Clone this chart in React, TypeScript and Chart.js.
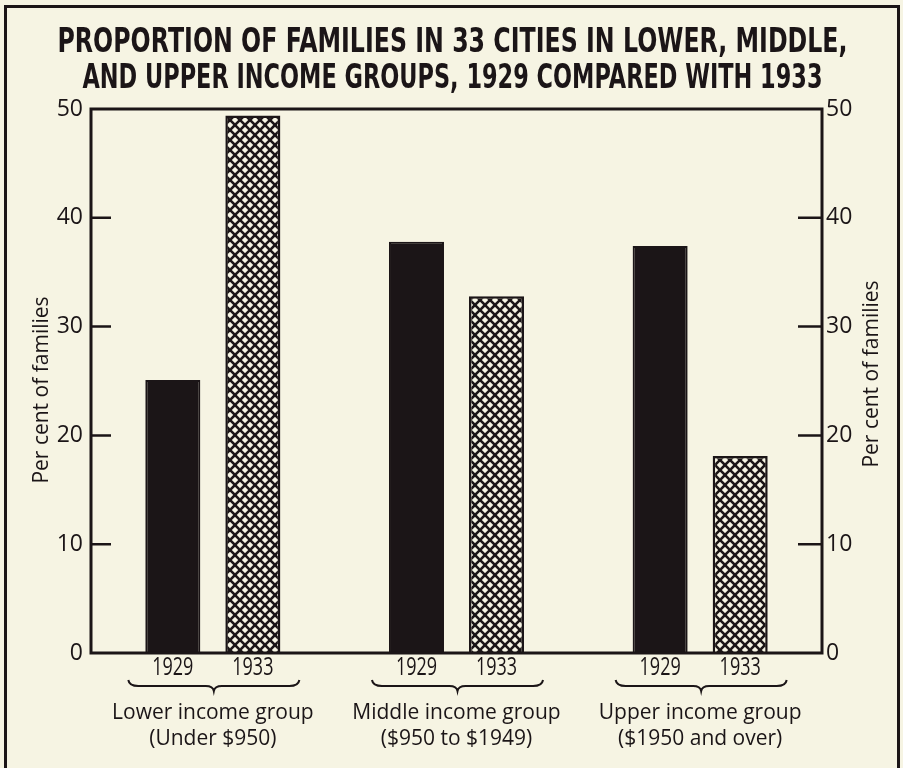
import React, { useEffect, useRef } from 'react';
import { Chart, registerables } from 'chart.js';

Chart.register(...registerables);

const titleLines = [
  'PROPORTION OF FAMILIES IN 33 CITIES IN LOWER, MIDDLE,',
  'AND UPPER INCOME GROUPS, 1929 COMPARED WITH 1933',
];
const groupNames = ['Lower income group', 'Middle income group', 'Upper income group'];
const groupRanges = ['(Under $950)', '($950 to $1949)', '($1950 and over)'];
const years = ['1929', '1933'];
const values1929 = [25.1, 37.8, 37.4];
const values1933 = [49.4, 32.8, 18.1];
const yMin = 0;
const yMax = 50;
const yStep = 10;
const axisTitle = 'Per cent of families';

const INK = '#1b1517';
const PAPER = '#f6f4e3';

function makeHatch(): CanvasPattern | string {
  const s = 10;
  const c = document.createElement('canvas');
  c.width = s;
  c.height = s;
  const g = c.getContext('2d');
  if (!g) return INK;
  g.fillStyle = PAPER;
  g.fillRect(0, 0, s, s);
  g.strokeStyle = INK;
  g.lineWidth = 2.6;
  for (const o of [-s, 0, s]) {
    g.beginPath();
    g.moveTo(o, 0);
    g.lineTo(o + s, s);
    g.stroke();
    g.beginPath();
    g.moveTo(o + s, 0);
    g.lineTo(o, s);
    g.stroke();
  }
  const p = g.createPattern(c, 'repeat');
  return p || INK;
}

function fillScaled(ctx: CanvasRenderingContext2D, text: string, x: number, y: number, sx: number) {
  ctx.save();
  ctx.translate(x, y);
  ctx.scale(sx, 1);
  ctx.fillText(text, 0, 0);
  ctx.restore();
}

function fillToWidth(ctx: CanvasRenderingContext2D, text: string, x: number, y: number, w: number) {
  const m = ctx.measureText(text).width;
  fillScaled(ctx, text, x, y, m > 0 ? w / m : 1);
}

const decor = {
  id: 'decor',
  beforeDraw(chart: any) {
    const { ctx, width, height } = chart;
    ctx.save();
    ctx.fillStyle = PAPER;
    ctx.fillRect(0, 0, width, height);
    ctx.strokeStyle = INK;
    ctx.lineWidth = 3;
    ctx.beginPath();
    ctx.moveTo(5.5, height);
    ctx.lineTo(5.5, 6.5);
    ctx.lineTo(width - 4.5, 6.5);
    ctx.lineTo(width - 4.5, height);
    ctx.stroke();
    ctx.restore();
  },
  afterDraw(chart: any) {
    const { ctx, chartArea } = chart;
    const { left, right, top, bottom } = chartArea;
    const yScale = chart.scales.y;
    ctx.save();
    ctx.strokeStyle = INK;
    ctx.fillStyle = INK;
    // plot box
    ctx.lineWidth = 3;
    ctx.strokeRect(left, top, right - left, bottom - top);
    // inward ticks
    ctx.lineWidth = 2.5;
    for (let v = yMin + yStep; v < yMax; v += yStep) {
      const py = yScale.getPixelForValue(v);
      ctx.beginPath();
      ctx.moveTo(left, py);
      ctx.lineTo(left + 20, py);
      ctx.moveTo(right, py);
      ctx.lineTo(right - 24, py);
      ctx.stroke();
    }
    // year labels under bars
    ctx.font = '25px "Open Sans", sans-serif';
    ctx.textAlign = 'center';
    ctx.textBaseline = 'middle';
    const m0 = chart.getDatasetMeta(0);
    const m1 = chart.getDatasetMeta(1);
    [m0, m1].forEach((meta: any, d: number) => {
      meta.data.forEach((el: any) => {
        fillScaled(ctx, years[d], el.x, bottom + 15, 0.72);
      });
    });
    // braces
    ctx.lineWidth = 2;
    m0.data.forEach((el0: any, i: number) => {
      const el1 = m1.data[i];
      const L = el0.x - el0.width / 2 - 17;
      const R = el1.x + el1.width / 2 + 19;
      const mid = (L + R) / 2;
      const y0 = bottom + 27;
      const r = 6;
      ctx.beginPath();
      ctx.moveTo(L, y0);
      ctx.quadraticCurveTo(L + 1, y0 + r, L + 10, y0 + r);
      ctx.lineTo(mid - 8, y0 + r);
      ctx.quadraticCurveTo(mid - 1, y0 + r, mid, y0 + r + 5);
      ctx.quadraticCurveTo(mid + 1, y0 + r, mid + 8, y0 + r);
      ctx.lineTo(R - 10, y0 + r);
      ctx.quadraticCurveTo(R - 1, y0 + r, R, y0);
      ctx.stroke();
    });
    // title
    ctx.font = 'bold 33px "DejaVu Sans", sans-serif';
    ctx.textBaseline = 'alphabetic';
    const cx = chart.width / 2 + 1;
    fillToWidth(ctx, titleLines[0], cx, 52, 790);
    fillToWidth(ctx, titleLines[1], cx, 88, 740);
    // axis titles
    ctx.font = '21px "Open Sans", sans-serif';
    ctx.textBaseline = 'middle';
    ctx.save();
    ctx.translate(42, 390);
    ctx.rotate(-Math.PI / 2);
    ctx.fillText(axisTitle, 0, 0);
    ctx.restore();
    ctx.save();
    ctx.translate(872, 374);
    ctx.rotate(-Math.PI / 2);
    ctx.fillText(axisTitle, 0, 0);
    ctx.restore();
    ctx.restore();
  },
};

export default function App() {
  const ref = useRef<HTMLCanvasElement>(null);
  useEffect(() => {
    document.body.style.margin = '0';
    const canvas = ref.current;
    if (!canvas) return;
    const hatch = makeHatch();
    const tickFont = { family: '"Open Sans", sans-serif', size: 23 };
    const chart = new Chart(canvas, {
      type: 'bar',
      data: {
        labels: groupNames.map((n, i) => [n, groupRanges[i]]),
        datasets: [
          {
            label: years[0],
            data: values1929,
            backgroundColor: INK,
            borderColor: INK,
            borderWidth: 2,
            yAxisID: 'y',
          },
          {
            label: years[1],
            data: values1933,
            backgroundColor: hatch as any,
            borderColor: INK,
            borderWidth: 2.5,
            yAxisID: 'y',
          },
        ],
      },
      options: {
        animation: false,
        responsive: false,
        devicePixelRatio: 1,
        layout: { padding: { top: 109, left: 0, right: 0, bottom: 0 } },
        datasets: { bar: { categoryPercentage: 0.657, barPercentage: 0.6875 } },
        plugins: {
          legend: { display: false },
          title: { display: false },
          tooltip: { enabled: false },
        },
        scales: {
          x: {
            grid: { display: false, drawTicks: false },
            border: { display: false },
            ticks: {
              color: INK,
              font: { family: '"Open Sans", sans-serif', size: 21, lineHeight: 1.25 },
              padding: 47,
              autoSkip: false,
              maxRotation: 0,
            },
            afterFit: (s: any) => { s.height = 115; },
          },
          y: {
            position: 'left',
            min: yMin,
            max: yMax,
            ticks: { stepSize: yStep, color: INK, font: tickFont, padding: 8 },
            grid: { display: false, drawTicks: false },
            border: { display: false },
            afterFit: (s: any) => { s.width = 91; },
          },
          y2: {
            position: 'right',
            min: yMin,
            max: yMax,
            ticks: { stepSize: yStep, color: INK, font: tickFont, padding: 4 },
            grid: { display: false, drawTicks: false },
            border: { display: false },
            afterFit: (s: any) => { s.width = 81; },
          },
        },
      } as any,
      plugins: [decor],
    });
    return () => chart.destroy();
  }, []);
  return (
    <div style={{ width: 903, height: 768 }}>
      <canvas ref={ref} width={903} height={768} style={{ display: 'block' }} />
    </div>
  );
}
